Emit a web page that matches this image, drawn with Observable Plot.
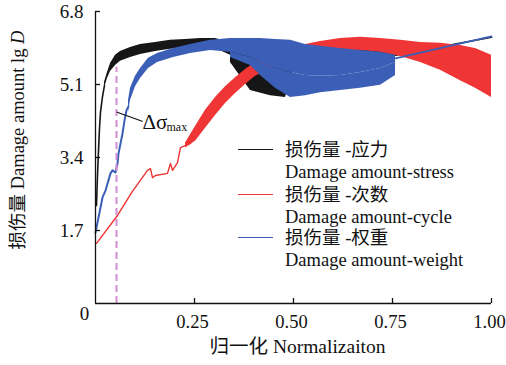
<!DOCTYPE html>
<html><head><meta charset="utf-8">
<script src="https://cdn.jsdelivr.net/npm/d3@7"></script>
<script src="https://cdn.jsdelivr.net/npm/@observablehq/plot@0.6"></script>
<style>
body{margin:0;background:#fff;}
#wrap{position:relative;width:506px;height:365px;font-family:"Times New Roman","Liberation Serif","DejaVu Serif","Noto Sans CJK SC",serif;color:#111;}
.lg-line{position:absolute;height:0;width:35px;}
.lg-t{position:absolute;font-size:18.5px;line-height:1;white-space:nowrap;transform:translateY(-50%);}
.ylab{position:absolute;left:18px;top:140px;font-size:18.5px;line-height:1;white-space:nowrap;transform:translate(-50%,-50%) rotate(-90deg);}
svg text{font-family:"Times New Roman","Liberation Serif","DejaVu Serif","Noto Sans CJK SC",serif;}
</style></head><body><div id="wrap"></div>
<script>
const xTicks = [0.25, 0.5, 0.75, 1.0];
const yTicks = [1.7, 3.4, 5.1, 6.8];

// Damage amount-stress (black)
const stressLineX = [0.0025,0.005,0.0076,0.0101,0.0126,0.0177,0.0227];
const stressLineY = [2.28,2.98,3.56,4.08,4.45,4.82,5.08];
const stressBandX  = [0.0227,0.0303,0.0379,0.0505,0.0631,0.0884,0.1136,0.1515,0.1894,0.2273,0.2652,0.303,0.3409,0.3914,0.4419,0.4798,0.5303,0.6187,0.7197,0.7576];
const stressBandHi = [5.15,5.38,5.59,5.78,5.87,5.96,6.03,6.08,6.13,6.15,6.17,6.17,6.08,6.01,5.94,5.89,5.89,5.94,5.96,5.94];
const stressBandLo = [5.01,5.24,5.40,5.54,5.64,5.73,5.80,5.87,5.92,5.96,5.99,5.94,5.78,5.61,5.47,5.43,5.43,5.47,5.54,5.61];
const stressSpikeX  = [0.3409,0.3914,0.4419,0.4798,0.4975];
const stressSpikeHi = [5.78,5.61,5.47,5.43,5.43];
const stressSpikeLo = [5.61,4.96,4.84,4.80,5.31];
const stressTailX = [0.7576,1.0];
const stressTailY = [5.78,6.20];

// Damage amount-cycle (red)
const cycleLineX = [0.0025,0.0556,0.0884,0.0934,0.1313,0.1389,0.1439,0.1515,0.1818,0.1894,0.1944,0.2071,0.2146,0.2399,0.2576];
const cycleLineY = [1.40,2.05,2.54,2.61,3.10,3.14,2.93,2.98,3.03,3.26,3.10,3.28,3.63,3.73,4.03];
const cycleBandX  = [0.2273,0.2525,0.2778,0.303,0.3283,0.3535,0.3788,0.404,0.4293,0.4545,0.4924,0.5303,0.5682,0.6187,0.6692,0.7197,0.7702,0.8207,0.8712,0.9217,0.9596,1.0];
const cycleBandHi = [3.74,4.12,4.50,4.80,5.05,5.26,5.45,5.61,5.73,5.82,5.94,6.03,6.10,6.17,6.20,6.17,6.13,6.08,6.06,6.01,5.94,5.78];
const cycleBandLo = [3.62,3.78,4.08,4.38,4.66,4.89,5.10,5.29,5.40,5.52,5.61,5.71,5.78,5.85,5.89,5.85,5.75,5.61,5.43,5.19,5.01,4.80];

// Damage amount-weight (blue)
const weightLineX = [0,0.0177,0.0253,0.0379,0.0429,0.0505,0.0556,0.0581,0.0682,0.0732,0.0783,0.0833];
const weightLineY = [1.65,2.47,2.63,3.03,3.10,3.05,3.26,3.49,3.96,4.26,4.50,4.59];
const weightBandX  = [0.0833,0.0884,0.101,0.1136,0.1338,0.1566,0.197,0.2399,0.2904,0.3409,0.3914,0.4167,0.4545,0.4924,0.5303,0.5682,0.6187,0.6692,0.7197,0.7576];
const weightBandHi = [4.73,5.01,5.29,5.47,5.71,5.82,5.94,6.03,6.13,6.17,6.17,6.17,6.15,6.13,6.03,5.99,5.94,5.89,5.85,5.78];
const weightBandLo = [4.45,4.73,5.05,5.24,5.47,5.61,5.73,5.82,5.89,5.85,5.73,5.61,5.47,5.38,5.31,5.29,5.31,5.38,5.47,5.61];
const weightSpikeX  = [0.3409,0.3914,0.4167,0.4545,0.4924,0.5303,0.5682,0.6187,0.6692,0.7197,0.7576];
const weightSpikeHi = [5.85,5.73,5.61,5.47,5.38,5.31,5.29,5.31,5.38,5.47,5.61];
const weightSpikeLo = [5.73,5.54,5.31,5.01,4.80,4.84,4.91,4.96,5.01,5.08,5.31];
const weightTailX = [0.7576,1.0];
const weightTailY = [5.71,6.22];

// Δσmax marker
const dashX = [0.053];
const dashTop = 5.50;
const leaderX = [0.0548,0.1179];
const leaderY = [4.455,4.245];
const annoX = [0.1187];
const annoY = [4.215];

const legendZh = ["损伤量 -应力","损伤量 -次数","损伤量 -权重"];
const legendEn = ["Damage amount-stress","Damage amount-cycle","Damage amount-weight"];
const colors = ["#161616","#ef3535","#3b5eb7"];
const xLabel = "归一化 Normalizaiton";

const pts = (xs, ys) => xs.map((x,i)=>({x, y: ys[i]}));
const band = (xs, hi, lo) => xs.map((x,i)=>({x, hi: hi[i], lo: lo[i]}));

const FONT = '"Times New Roman","Liberation Serif","DejaVu Serif","Noto Sans CJK SC",serif';
const [cK, cR, cB] = colors;

const chart = Plot.plot({
  width: 506, height: 365,
  marginLeft: 95, marginRight: 15, marginTop: 11, marginBottom: 62,
  style: {fontFamily: FONT, fontSize: "19px", color: "#111", background: "#fff"},
  x: {domain: [0, 1]},
  y: {domain: [0, 6.8]},
  marks: [
    // stress
    Plot.areaY(band(stressBandX, stressBandHi, stressBandLo), {x: "x", y1: "lo", y2: "hi", fill: cK}),
    Plot.areaY(band(stressSpikeX, stressSpikeHi, stressSpikeLo), {x: "x", y1: "lo", y2: "hi", fill: cK}),
    Plot.line(pts(stressLineX, stressLineY), {x: "x", y: "y", stroke: cK, strokeWidth: 1.6}),
    Plot.line(pts(stressTailX, stressTailY), {x: "x", y: "y", stroke: cK, strokeWidth: 1.6}),
    // cycle
    Plot.line(pts(cycleLineX, cycleLineY), {x: "x", y: "y", stroke: cR, strokeWidth: 1.4}),
    Plot.areaY(band(cycleBandX, cycleBandHi, cycleBandLo), {x: "x", y1: "lo", y2: "hi", fill: cR}),
    // weight
    Plot.line(pts(weightLineX, weightLineY), {x: "x", y: "y", stroke: cB, strokeWidth: 2}),
    Plot.areaY(band(weightBandX, weightBandHi, weightBandLo), {x: "x", y1: "lo", y2: "hi", fill: cB}),
    Plot.areaY(band(weightSpikeX, weightSpikeHi, weightSpikeLo), {x: "x", y1: "lo", y2: "hi", fill: cB}),
    Plot.line(pts(weightTailX, weightTailY), {x: "x", y: "y", stroke: cB, strokeWidth: 1.8}),
    // dashed marker
    Plot.ruleX(dashX, {x: d => d, y1: 0, y2: dashTop, stroke: "#d08fd4", strokeWidth: 2, strokeDasharray: "7,4"}),
    Plot.line(pts(leaderX, leaderY), {x: "x", y: "y", stroke: "#111", strokeWidth: 1.2}),
    Plot.text(annoX, {x: d => d, y: annoY[0], text: () => "Δσ", textAnchor: "start", fontSize: 21, fill: "#111"}),
    Plot.text(annoX, {x: d => d, y: annoY[0], text: () => "max", textAnchor: "start", fontSize: 12, dx: 24, dy: 5, fill: "#111"}),
    // axes
    Plot.ruleX([0], {stroke: "#111", strokeWidth: 1.3}),
    Plot.ruleY([0], {stroke: "#111", strokeWidth: 1.3}),
    Plot.axisY(yTicks, {tickSize: 0, tickPadding: 12, label: null, tickFormat: d => d.toFixed(1), fontSize: 19}),
    Plot.axisY(yTicks, {tickSize: 5, dx: 5, text: null, label: null, strokeWidth: 1.3}),
    Plot.axisX(xTicks, {tickSize: 0, tickPadding: 11, dx: -2, label: null, tickFormat: d => d.toFixed(2), fontSize: 18.5}),
    Plot.axisX(xTicks, {tickSize: 5, dy: -5, text: null, label: null, strokeWidth: 1.3}),
    Plot.text([0], {x: 0, y: 0, text: () => "0", dx: -11, dy: 10, fontSize: 19, fill: "#111"}),
    Plot.text([xLabel], {frameAnchor: "bottom", dy: 49, dx: 4, fontSize: 19.5, fill: "#111"})
  ]
});

const wrap = document.getElementById("wrap");
wrap.appendChild(chart);

const yl = document.createElement("div");
yl.className = "ylab";
yl.innerHTML = "损伤量 Damage amount lg <i>D</i>";
wrap.appendChild(yl);

const rowY = [150, 195, 238];
rowY.forEach((y, i) => {
  const ln = document.createElement("div");
  ln.className = "lg-line";
  ln.style.left = "238px"; ln.style.top = (y - 0.75) + "px";
  ln.style.borderTop = "1.5px solid " + colors[i];
  wrap.appendChild(ln);
  const zh = document.createElement("div");
  zh.className = "lg-t"; zh.style.left = "285px"; zh.style.top = y + "px";
  zh.textContent = legendZh[i];
  wrap.appendChild(zh);
  const en = document.createElement("div");
  en.className = "lg-t"; en.style.left = "285px"; en.style.top = (y + 22) + "px";
  en.textContent = legendEn[i];
  wrap.appendChild(en);
});
</script></body></html>
